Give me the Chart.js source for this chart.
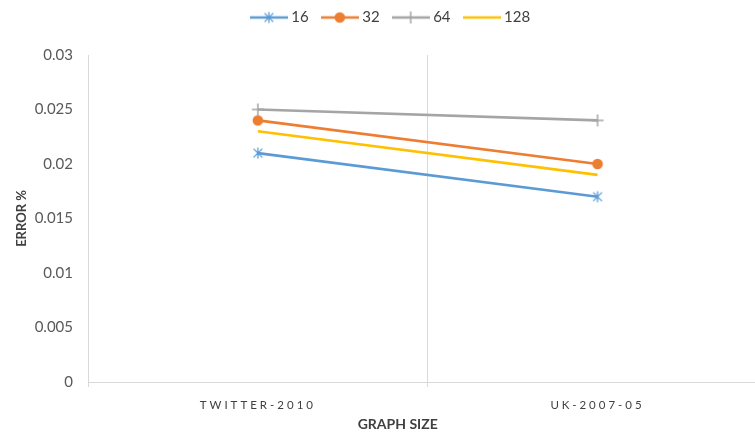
<!DOCTYPE html>
<html>
<head>
<meta charset="utf-8">
<script src="https://cdn.jsdelivr.net/npm/chart.js@4/dist/chart.umd.min.js"></script>
<style>
  html, body { margin: 0; padding: 0; background: #fff; overflow: hidden; }
  #wrap { width: 776px; height: 435px; position: relative; }
</style>
</head>
<body>
<div id="wrap"><canvas id="c" width="776" height="435"></canvas></div>
<script>
// Error rate per graph, one series per partition count
const categories = ['TWITTER-2010', 'UK-2007-05'];
const seriesNames = ['16', '32', '64', '128'];
const err16  = [0.021, 0.017];
const err32  = [0.024, 0.020];
const err64  = [0.025, 0.024];
const err128 = [0.023, 0.019];
const yTicks = [0, 0.005, 0.01, 0.015, 0.02, 0.025, 0.03];

const colors = ['#5B9BD5', '#ED7D31', '#A5A5A5', '#FFC000'];
const markers = ['asterisk', 'circle', 'plus', 'none'];

function drawMarker(ctx, kind, color, cx, cy) {
  ctx.save();
  ctx.strokeStyle = color;
  ctx.fillStyle = color;
  ctx.lineCap = 'butt';
  if (kind === 'asterisk') {
    const r = 5.5;
    ctx.lineWidth = 1.3;
    ctx.beginPath();
    ctx.moveTo(cx, cy - r); ctx.lineTo(cx, cy + r);
    ctx.moveTo(cx - r * 0.8, cy - r * 0.8); ctx.lineTo(cx + r * 0.8, cy + r * 0.8);
    ctx.moveTo(cx + r * 0.8, cy - r * 0.8); ctx.lineTo(cx - r * 0.8, cy + r * 0.8);
    ctx.stroke();
  } else if (kind === 'circle') {
    ctx.beginPath();
    ctx.arc(cx, cy, 5.3, 0, Math.PI * 2);
    ctx.fill();
  } else if (kind === 'plus') {
    const r = 6;
    ctx.lineWidth = 1.5;
    ctx.beginPath();
    ctx.moveTo(cx, cy - r); ctx.lineTo(cx, cy + r);
    ctx.moveTo(cx - r, cy); ctx.lineTo(cx + r, cy);
    ctx.stroke();
  }
  ctx.restore();
}

function markerImage(kind, color, width, withLine) {
  const c = document.createElement('canvas');
  c.width = width; c.height = 14;
  const ctx = c.getContext('2d');
  if (withLine) {
    ctx.strokeStyle = color;
    ctx.lineWidth = 2.6;
    ctx.beginPath();
    ctx.moveTo(0, 7); ctx.lineTo(width, 7);
    ctx.stroke();
  }
  drawMarker(ctx, kind, color, width / 2, 7);
  return c;
}

const pointImgs = markers.map((m, i) => markerImage(m, colors[i], 14, false));
const legendImgs = markers.map((m, i) => markerImage(m, colors[i], 38, true));

const seriesValues = [err16, err32, err64, err128];

const datasets = seriesNames.map((name, i) => ({
  label: name,
  data: seriesValues[i],
  borderColor: colors[i],
  backgroundColor: colors[i],
  borderWidth: 2.6,
  tension: 0,
  pointStyle: markers[i] === 'none' ? false : pointImgs[i],
  pointRadius: markers[i] === 'none' ? 0 : 6,
  pointHoverRadius: markers[i] === 'none' ? 0 : 6
}));

// Wide letter spacing for the category labels, axis title centred on the whole chart
const xAxisLook = {
  id: 'xAxisLook',
  afterLayout(chart) {
    const sc = chart.scales.x;
    if (!sc || sc._styled) return;
    const origLabels = sc.drawLabels;
    sc.drawLabels = function (area) {
      const ctx = this.ctx;
      ctx.save();
      ctx.letterSpacing = '3px';
      origLabels.call(this, area);
      ctx.restore();
    };
    const origTitle = sc.drawTitle;
    sc.drawTitle = function () {
      const ctx = this.ctx;
      ctx.save();
      ctx.translate(-30, 0);
      origTitle.call(this);
      ctx.restore();
    };
    sc._styled = true;
  }
};

// Fixed legend band height above the plot
const legendBand = {
  id: 'legendBand',
  beforeLayout(chart) {
    const lg = chart.legend;
    if (!lg || lg._banded) return;
    const origFit = lg.fit;
    lg.fit = function () {
      origFit.call(this);
      this.height = 55;
    };
    const origDraw = lg.draw;
    lg.draw = function () {
      const ctx = this.ctx;
      ctx.save();
      ctx.translate(5, -6);
      origDraw.call(this);
      ctx.restore();
    };
    lg._banded = true;
  }
};

new Chart(document.getElementById('c'), {
  type: 'line',
  data: { labels: categories, datasets },
  plugins: [xAxisLook, legendBand],
  options: {
    responsive: false,
    animation: false,
    layout: { padding: { left: 0, right: 2, top: 0, bottom: 0 } },
    plugins: {
      tooltip: { enabled: false },
      legend: {
        position: 'top',
        labels: {
          usePointStyle: true,
          pointStyleWidth: 30,
          padding: 16,
          color: '#404040',
          font: { family: 'Lato', size: 15 },
          generateLabels: (chart) => chart.data.datasets.map((ds, i) => ({
            text: ds.label,
            pointStyle: legendImgs[i],
            fillStyle: 'transparent',
            strokeStyle: 'transparent',
            lineWidth: 0,
            hidden: false,
            datasetIndex: i,
            fontColor: '#404040'
          }))
        }
      }
    },
    scales: {
      x: {
        offset: true,
        grid: { display: true, offset: true, color: '#D9D9D9', lineWidth: 1, drawTicks: true, tickLength: 5 },
        border: { display: true, color: '#D9D9D9', width: 1 },
        ticks: { color: '#404040', padding: 11, font: { family: 'Lato', size: 11.5 }, maxRotation: 0 },
        title: {
          display: true, text: 'GRAPH SIZE', color: '#404040',
          font: { family: 'Lato', size: 14, weight: 'bold' },
          padding: { top: 0, bottom: 2 }
        },
        afterFit(scale) { scale.height = 53; }
      },
      y: {
        min: 0, max: 0.03,
        afterBuildTicks(scale) { scale.ticks = yTicks.map(v => ({ value: v })); },
        grid: { display: false, drawTicks: false },
        border: { display: false },
        ticks: {
          color: '#595959', padding: 15,
          font: { family: 'Lato', size: 15 },
          callback: (v) => String(Number(v.toFixed(3)))
        },
        title: {
          display: true, text: 'ERROR %', color: '#404040',
          font: { family: 'Lato', size: 13, weight: 'bold' },
          padding: { top: 14, bottom: 0 }
        },
        afterFit(scale) { scale.width = 88; }
      }
    }
  }
});
</script>
</body>
</html>
